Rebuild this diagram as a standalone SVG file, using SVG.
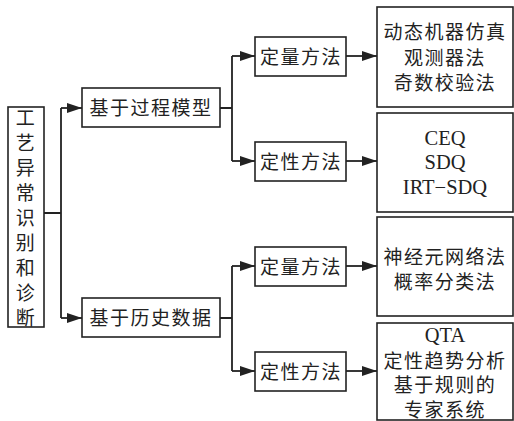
<svg xmlns="http://www.w3.org/2000/svg" width="514" height="421" viewBox="0 0 514 421">
<defs>
<style>
.box{fill:#fff;stroke:#222;stroke-width:1.6}
.ln{fill:none;stroke:#222;stroke-width:1.8}
.t{font-family:"Liberation Serif","Noto Sans CJK SC",serif;font-size:19px;fill:#222;text-anchor:middle;dominant-baseline:central;letter-spacing:1.5px}
.lat{font-size:20.5px;letter-spacing:0}
</style>
<marker id="ah" viewBox="0 0 15 10" refX="15" refY="5" markerWidth="15" markerHeight="10" markerUnits="userSpaceOnUse" orient="auto">
<path d="M0,0 L15,5 L0,10 z" fill="#222"/>
</marker>
</defs>
<g id="connectors">
<path class="ln" d="M44,213 H61 M61,108 V318"/>
<path class="ln" d="M61,108 H82" marker-end="url(#ah)"/>
<path class="ln" d="M61,318 H82" marker-end="url(#ah)"/>
<path class="ln" d="M220,108 H232 M232,56 V161"/>
<path class="ln" d="M232,56 H255" marker-end="url(#ah)"/>
<path class="ln" d="M232,161 H255" marker-end="url(#ah)"/>
<path class="ln" d="M220,318 H232 M232,266 V371"/>
<path class="ln" d="M232,266 H255" marker-end="url(#ah)"/>
<path class="ln" d="M232,371 H255" marker-end="url(#ah)"/>
<path class="ln" d="M346,56 H377" marker-end="url(#ah)"/>
<path class="ln" d="M346,161 H377" marker-end="url(#ah)"/>
<path class="ln" d="M346,266 H377" marker-end="url(#ah)"/>
<path class="ln" d="M346,371 H377" marker-end="url(#ah)"/>
</g>
<g id="root">
<rect class="box" x="8" y="107" width="36" height="220"/>
<text class="t" x="26" y="118">工</text>
<text class="t" x="26" y="143">艺</text>
<text class="t" x="26" y="168">异</text>
<text class="t" x="26" y="193">常</text>
<text class="t" x="26" y="218">识</text>
<text class="t" x="26" y="243">别</text>
<text class="t" x="26" y="268">和</text>
<text class="t" x="26" y="293">诊</text>
<text class="t" x="26" y="318">断</text>
</g>
<g id="process">
<rect class="box" x="82" y="88" width="138" height="39"/>
<text class="t" x="151" y="108">基于过程模型</text>
</g>
<g id="history">
<rect class="box" x="82" y="298" width="138" height="39"/>
<text class="t" x="151" y="318">基于历史数据</text>
</g>
<g id="quant1">
<rect class="box" x="255" y="37" width="91" height="39"/>
<text class="t" x="301" y="57">定量方法</text>
</g>
<g id="qual1">
<rect class="box" x="255" y="142" width="91" height="39"/>
<text class="t" x="301" y="162">定性方法</text>
</g>
<g id="quant2">
<rect class="box" x="255" y="247" width="91" height="39"/>
<text class="t" x="301" y="267">定量方法</text>
</g>
<g id="qual2">
<rect class="box" x="255" y="352" width="91" height="39"/>
<text class="t" x="301" y="372">定性方法</text>
</g>
<g id="res1">
<rect class="box" x="377" y="7" width="136" height="100"/>
<text class="t" x="445" y="32">动态机器仿真</text>
<text class="t" x="445" y="58">观测器法</text>
<text class="t" x="445" y="83">奇数校验法</text>
</g>
<g id="res2">
<rect class="box" x="377" y="113" width="136" height="99"/>
<text class="t lat" x="445" y="138">CEQ</text>
<text class="t lat" x="445" y="162">SDQ</text>
<text class="t lat" x="445" y="187">IRT−SDQ</text>
</g>
<g id="res3">
<rect class="box" x="377" y="217" width="136" height="99"/>
<text class="t" x="445" y="257">神经元网络法</text>
<text class="t" x="445" y="282">概率分类法</text>
</g>
<g id="res4">
<rect class="box" x="377" y="323" width="136" height="97"/>
<text class="t lat" x="445" y="335">QTA</text>
<text class="t" x="445" y="361">定性趋势分析</text>
<text class="t" x="445" y="385">基于规则的</text>
<text class="t" x="445" y="410">专家系统</text>
</g>
</svg>
